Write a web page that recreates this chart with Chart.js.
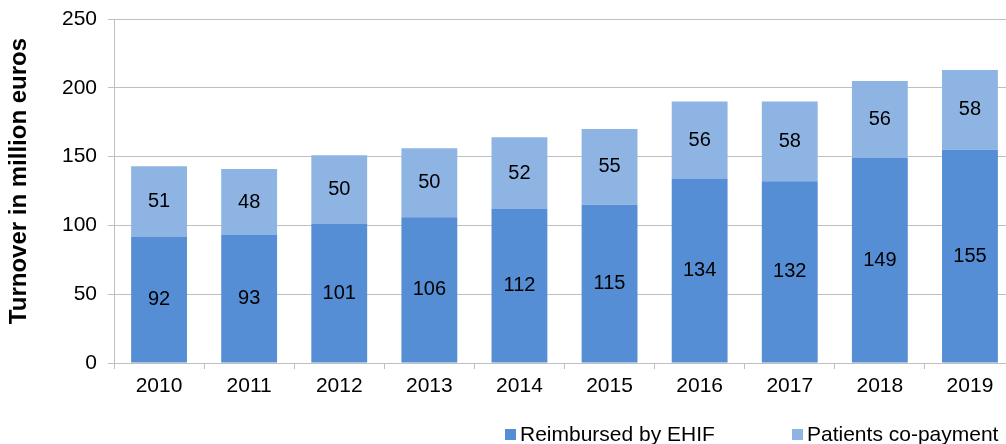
<!DOCTYPE html>
<html>
<head>
<meta charset="utf-8">
<script src="https://cdn.jsdelivr.net/npm/chart.js@4"></script>
<style>
  html, body { margin: 0; padding: 0; background: #fff; overflow: hidden; }
  #wrap { width: 1006px; height: 444px; overflow: hidden; }
</style>
</head>
<body>
<div id="wrap"><canvas id="turnoverChart" width="1016" height="444"></canvas></div>
<script>
const years = ["2010", "2011", "2012", "2013", "2014", "2015", "2016", "2017", "2018", "2019"];
const reimbursed = [92, 93, 101, 106, 112, 115, 134, 132, 149, 155];
const copayment = [51, 48, 50, 50, 52, 55, 56, 58, 56, 58];
const yTicks = [0, 50, 100, 150, 200, 250];

const darkBlue = "#558ed5";
const lightBlue = "#8eb4e3";
const gridGray = "#bfbfbf";
const fontFamily = "'Liberation Sans', Arial, sans-serif";

/* Labels in the middle of each bar segment */
const segmentLabels = {
  id: "segmentLabels",
  afterDatasetsDraw(chart) {
    const ctx = chart.ctx;
    ctx.save();
    ctx.font = "20px " + fontFamily;
    ctx.fillStyle = "#000";
    ctx.textAlign = "center";
    ctx.textBaseline = "middle";
    chart.data.datasets.forEach((ds, i) => {
      chart.getDatasetMeta(i).data.forEach((bar, j) => {
        const y = (bar.y + bar.base) / 2;
        ctx.fillText(ds.data[j], bar.x, y);
      });
    });
    ctx.restore();
  }
};

/* Legend along the bottom */
const bottomLegend = {
  id: "bottomLegend",
  afterDraw(chart) {
    const ctx = chart.ctx;
    const items = [
      { text: "Reimbursed by EHIF", color: darkBlue, x: 505 },
      { text: "Patients co-payment", color: lightBlue, x: 792 }
    ];
    ctx.save();
    ctx.font = "21px " + fontFamily;
    ctx.textBaseline = "middle";
    ctx.textAlign = "left";
    items.forEach(item => {
      ctx.fillStyle = item.color;
      ctx.fillRect(item.x, 429, 11, 11);
      ctx.fillStyle = "#000";
      ctx.fillText(item.text, item.x + 15, 435);
    });
    ctx.restore();
  }
};

new Chart(document.querySelector("#turnoverChart"), {
  type: "bar",
  data: {
    labels: years,
    datasets: [
      {
        label: "Reimbursed by EHIF",
        data: reimbursed,
        backgroundColor: darkBlue,
        categoryPercentage: 1,
        barPercentage: 0.62
      },
      {
        label: "Patients co-payment",
        data: copayment,
        backgroundColor: lightBlue,
        categoryPercentage: 1,
        barPercentage: 0.62
      }
    ]
  },
  options: {
    responsive: false,
    animation: false,
    layout: {
      padding: { top: 19, right: 1, bottom: 0, left: 0 }
    },
    plugins: {
      legend: { display: false },
      tooltip: { enabled: false }
    },
    scales: {
      x: {
        stacked: true,
        afterFit(scale) {
          scale.height = 81;
        },
        border: { color: gridGray, width: 1 },
        grid: {
          offset: true,
          drawOnChartArea: false,
          drawTicks: true,
          tickLength: 6,
          color: gridGray
        },
        ticks: {
          color: "#000",
          padding: 5,
          font: { family: fontFamily, size: 21 }
        }
      },
      y: {
        stacked: true,
        min: 0,
        max: 250,
        afterFit(scale) {
          scale.width = 114;
          scale.paddingTop = 0;
          scale.paddingBottom = 0;
        },
        afterBuildTicks(scale) {
          scale.ticks = yTicks.map(v => ({ value: v }));
        },
        border: { color: gridGray, width: 1 },
        grid: {
          color: gridGray,
          tickLength: 6
        },
        ticks: {
          color: "#000",
          padding: 11,
          font: { family: fontFamily, size: 21 }
        },
        title: {
          display: true,
          // leading spaces nudge the rotated title upward a little
          text: "   Turnover in million euros",
          color: "#000",
          padding: { top: 5, bottom: 0 },
          font: { family: fontFamily, size: 24, weight: "bold" }
        }
      }
    }
  },
  plugins: [segmentLabels, bottomLegend]
});
</script>
</body>
</html>
